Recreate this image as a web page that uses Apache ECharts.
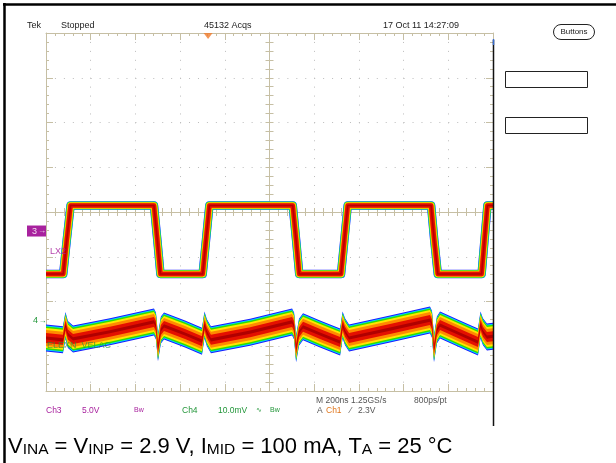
<!DOCTYPE html>
<html>
<head>
<meta charset="utf-8">
<script src="https://cdn.jsdelivr.net/npm/echarts@6/dist/echarts.min.js"></script>
<style>
html,body{margin:0;padding:0;background:#fff;}
#chart{width:616px;height:463px;}
</style>
</head>
<body>
<div id="chart"></div>
<script>
// ---------------- data ----------------
// time axis: 10 divisions of 200 ns, centred on 0
const timeMinNs = -1000;
const timeMaxNs = 1000;
const timePerDivNs = 200;
const halfDivisionsY = 4;

// Ch3 (LX2), 5.0 V/div
const ch3VoltsPerDiv = 5.0;
const ch3MarkerDiv = -0.425;           // ground marker position, divisions from centre
const ch3TimeNs = [-1000,-923,-907,-890,-517,-502,-488,-299,-284,-269,104,119,133,320,335,350,723,737,753,949,962,975,1000];
const ch3Volts  = [-4.8,-4.8,-0.98,2.85,2.85,-0.98,-4.8,-4.8,-0.98,2.85,2.85,-0.98,-4.8,-4.8,-0.98,2.85,2.85,-0.98,-4.8,-4.8,-0.98,2.85,2.85];

// Ch4 (output ripple, AC), 10.0 mV/div  (centre of the persistence band)
const ch4MilliVoltsPerDiv = 10.0;
const ch4MarkerDiv = -2.436;
const ch4TimeNs = [-1000,-924,-913,-902,-879,-714,-517,-508,-499,-486,-472,-378,-302,-291,-280,-262,-87,101,110,119,132,150,226,316,327,338,356,539,718,727,736,749,763,852,933,944,955,973,1000];
const ch4MilliVolts = [-3.8,-4.2,-1.0,-3.0,-4.0,-2.4,-0.2,-1.1,-6.0,-2.0,-1.1,-2.9,-4.5,-0.9,-2.6,-4.2,-2.5,-0.2,-1.1,-6.2,-2.5,-1.3,-2.9,-4.7,-0.9,-2.4,-3.8,-1.8,0.2,-0.7,-6.2,-2.0,-0.9,-2.9,-4.7,-0.9,-2.4,-3.6,-3.4];

const triggerTimeNs = -275;

// texts
const headerTexts = ['Tek','Stopped','45132 Acqs','17 Oct 11 14:27:09'];
const ch3Label = 'LX2';
const ch4Label = 'ELEXN_VELAC';
const infoCh3 = ['Ch3','5.0V','Bw'];
const infoCh4 = ['Ch4','10.0mV','\u223F','Bw'];
const infoTime = ['M 200ns 1.25GS/s','800ps/pt'];
const infoTrig = ['A','Ch1','\u2044','2.3V'];

// ---------------- styles ----------------
const tan = '#c6bfa4';
const dotGrey = '#bcbcbc';
const purple = '#a8229e';
const green = '#23963a';
const orange = '#e0771d';
const FONT = "'Liberation Sans', Arial, sans-serif";

// Ch3: stroke widths (px) of the persistence layers
const bandLayers3 = [
  {c:'#2020ff',w:8.5},{c:'#00d2ff',w:8},{c:'#2fe000',w:7.5},{c:'#ffe600',w:6.5},
  {c:'#ff8a00',w:5.5},{c:'#e41000',w:4.5},{c:'#b80000',w:1.6}
];
// Ch4: half thickness (px) of the persistence layers
const bandLayers4 = [
  {c:'#1818ff',h:13.5},{c:'#00d2ff',h:12.5},{c:'#2fe000',h:11.5},{c:'#ffe600',h:10},
  {c:'#ff8a00',h:8},{c:'#e41000',h:5},{c:'#b00000',h:1.6}
];

const xCommon = {type:'value', min:timeMinNs, max:timeMaxNs, interval:timePerDivNs,
  axisLabel:{show:false}, splitLine:{show:false}};
const yCommon = {type:'value', min:-halfDivisionsY, max:halfDivisionsY, interval:1,
  axisLabel:{show:false}, splitLine:{show:false}};

function borderAxis(common, pos, split){
  return Object.assign({}, common, {
    position:pos,
    axisLine:{show:true, onZero:false, lineStyle:{color:tan, width:1}},
    axisTick:{show:true, inside:true, length:7, lineStyle:{color:tan}},
    minorTick:{show:true, splitNumber:5, length:3, lineStyle:{color:tan}},
    splitLine: split ? {show:true, lineStyle:{color:dotGrey, width:1, type:[1,7.94]}} : {show:false}
  });
}
function centreAxis(common, pos, inside){
  return Object.assign({}, common, {
    position:pos,
    axisLine:{show:true, onZero:true, onZeroAxisIndex:0, lineStyle:{color:tan, width:1}},
    axisTick:{show:true, inside:inside, length:4, lineStyle:{color:tan}},
    minorTick:{show:true, splitNumber:5, length:4, lineStyle:{color:tan}}
  });
}

const ch3Min = (-halfDivisionsY - ch3MarkerDiv) * ch3VoltsPerDiv;
const ch3Max = ( halfDivisionsY - ch3MarkerDiv) * ch3VoltsPerDiv;
const ch4Min = (-halfDivisionsY - ch4MarkerDiv) * ch4MilliVoltsPerDiv;
const ch4Max = ( halfDivisionsY - ch4MarkerDiv) * ch4MilliVoltsPerDiv;

function renderCh3(params, api){
  const pts = ch3TimeNs.map((t,i)=>api.coord([t, ch3Volts[i]]));
  return {type:'group', children: bandLayers3.map(l=>({
    type:'polyline', shape:{points:pts},
    style:{stroke:l.c, lineWidth:l.w, fill:null, lineJoin:'round', lineCap:'butt'}
  }))};
}
function renderCh4(params, api){
  const pts = ch4TimeNs.map((t,i)=>api.coord([t, ch4MilliVolts[i]]));
  return {type:'group', children: bandLayers4.map(l=>{
    const upper = pts.map(p=>[p[0], p[1]-l.h]);
    const lower = pts.map(p=>[p[0], p[1]+l.h]).reverse();
    return {type:'polygon', shape:{points:upper.concat(lower)}, style:{fill:l.c, stroke:null}};
  })};
}

const chart = echarts.init(document.getElementById('chart'), null, {renderer:'canvas'});

const option = {
  animation:false,
  backgroundColor:'#ffffff',
  grid:{left:46, top:33, width:447, height:358, containLabel:false},
  xAxis:[
    borderAxis(xCommon,'bottom',true),
    borderAxis(xCommon,'top',false),
    centreAxis(xCommon,'bottom',true),
    centreAxis(xCommon,'bottom',false)
  ],
  yAxis:[
    borderAxis(yCommon,'left',true),
    borderAxis(yCommon,'right',false),
    centreAxis(yCommon,'left',true),
    centreAxis(yCommon,'left',false),
    {type:'value', show:false, min:ch3Min, max:ch3Max},
    {type:'value', show:false, min:ch4Min, max:ch4Max}
  ],
  series:[
    {type:'custom', name:'Ch4', coordinateSystem:'cartesian2d', xAxisIndex:0, yAxisIndex:5,
     data:[[0,0]], renderItem:renderCh4, clip:true, silent:true, z:10},
    {type:'custom', name:'Ch3', coordinateSystem:'cartesian2d', xAxisIndex:0, yAxisIndex:4,
     data:[[0,0]], renderItem:renderCh3, clip:true, silent:true, z:11},
    {type:'scatter', xAxisIndex:0, yAxisIndex:0, data:[[triggerTimeNs, halfDivisionsY]],
     symbol:'triangle', symbolRotate:180, symbolSize:[9,6], symbolOffset:[0,3],
     itemStyle:{color:'#f07a2a'}, clip:false, silent:true, z:40}
  ]
};
chart.setOption(option);

// marker positions from the channel axes
const y3 = chart.convertToPixel({yAxisIndex:4}, 0);
const y4 = chart.convertToPixel({yAxisIndex:5}, 0);

function txt(x, y, text, fill, size, extra){
  return Object.assign({type:'text', x:x, y:y, z:1, silent:true,
    style:{text:text, fill:fill, font: size + 'px ' + FONT, textVerticalAlign:'middle', textAlign:'left'}}, extra||{});
}

const graphics = [
  // page frame
  {type:'line', shape:{x1:3, y1:4.5, x2:616, y2:4.5}, style:{stroke:'#000', lineWidth:2.5}, z:50},
  {type:'line', shape:{x1:4.5, y1:3, x2:4.5, y2:463}, style:{stroke:'#000', lineWidth:2.5}, z:50},
  // right edge of scope screen
  {type:'line', shape:{x1:493.5, y1:40, x2:493.5, y2:426}, style:{stroke:'#111', lineWidth:1.5}, z:50},
  {type:'line', shape:{x1:493.5, y1:39, x2:493.5, y2:45}, style:{stroke:'#3a6ccc', lineWidth:1.5}, z:51},
  // header
  txt(27, 25.5, headerTexts[0], '#222', 9),
  txt(61, 25.5, headerTexts[1], '#222', 9),
  txt(204, 25.5, headerTexts[2], '#222', 9),
  txt(383, 25.5, headerTexts[3], '#222', 9),
  // buttons + boxes
  {type:'rect', shape:{x:553.5, y:24.5, width:41, height:15, r:7.5}, style:{fill:'#fff', stroke:'#222', lineWidth:1}, z:5},
  {type:'text', x:574, y:32, z:6, silent:true, style:{text:'Buttons', fill:'#222', font:'8px '+FONT, textAlign:'center', textVerticalAlign:'middle'}},
  {type:'rect', shape:{x:505.5, y:71.5, width:82, height:16}, style:{fill:'#fff', stroke:'#222', lineWidth:1}, z:5},
  {type:'rect', shape:{x:505.5, y:117.5, width:82, height:16}, style:{fill:'#fff', stroke:'#222', lineWidth:1}, z:5},
  // channel markers
  {type:'rect', shape:{x:27, y:y3-5.5, width:19, height:11}, style:{fill:purple}, z:5},
  txt(32, y3, '3', '#f3dcf0', 9, {z:6}),
  txt(38, y3, '\u2192', '#f3dcf0', 8, {z:6}),
  {type:'text', x:50, y:y3+20, z:60, silent:true, style:{text:ch3Label, fill:purple, opacity:0.85, font:'9px '+FONT, textVerticalAlign:'middle', textAlign:'left'}},
  txt(33, y4, '4', green, 9, {z:6}),
  txt(38.5, y4, '\u2192', green, 8, {z:6}),
  {type:'text', x:47, y:y4+25, z:60, silent:true, style:{text:ch4Label, fill:green, opacity:0.75, font:'9px '+FONT, textVerticalAlign:'middle', textAlign:'left'}},
  // info rows
  txt(46, 411, infoCh3[0], purple, 8.5),
  txt(82, 411, infoCh3[1], purple, 8.5),
  txt(134, 410, infoCh3[2], purple, 7),
  txt(182, 411, infoCh4[0], green, 8.5),
  txt(218, 411, infoCh4[1], green, 8.5),
  txt(256, 410, infoCh4[2], green, 7),
  txt(270, 410, infoCh4[3], green, 7),
  txt(316, 401, infoTime[0], '#555', 8.5),
  txt(414, 401, infoTime[1], '#555', 8.5),
  txt(317, 411, infoTrig[0], '#555', 8.5),
  txt(326, 411, infoTrig[1], orange, 8.5),
  txt(350, 411, infoTrig[2], '#555', 8.5),
  txt(358, 411, infoTrig[3], '#555', 8.5),
  // caption
  {type:'text', x:8, y:433, z:5, silent:true,
   style:{
     text:'{n|V}{s|INA}{n| = V}{s|INP}{n| = 2.9 V, I}{s|MID}{n| = 100 mA, T}{s|A}{n| = 25 \u00B0C}',
     rich:{
       n:{fontSize:22, fontFamily:FONT, fill:'#000', lineHeight:25, verticalAlign:'bottom'},
       s:{fontSize:15.5, fontFamily:FONT, fill:'#000', lineHeight:10, verticalAlign:'bottom'}
     }
   }}
];
chart.setOption({graphic:graphics});
</script>
</body>
</html>
